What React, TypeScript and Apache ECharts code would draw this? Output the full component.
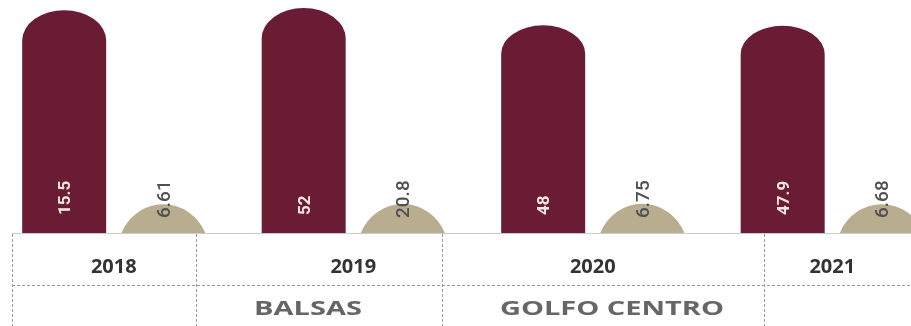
import React, { useEffect, useRef } from "react";
import * as echarts from "echarts";

const years = ["2018", "2019", "2020", "2021"];
const guindaValues = [51.5, 52, 48, 47.9];
const guindaLabels = ["15.5", "52", "48", "47.9"];
const beigeValues = [6.61, 6.7, 6.75, 6.68];
const beigeLabels = ["6.61", "20.8", "6.75", "6.68"];
const regionLabels = ["BALSAS", "GOLFO CENTRO"];

const GUINDA = "#6a1c35";
const BEIGE = "#b8ae8f";

export default function App() {
  const ref = useRef<HTMLDivElement>(null);
  useEffect(() => {
    if (!ref.current) return;
    const chart = echarts.init(ref.current, null, { renderer: "svg" });
    const dash = { stroke: "#9a9a9a", lineWidth: 1, lineDash: [3, 2] };
    const vx = [12.5, 196.5, 442.5, 764.5];
    const regionX = [308, 612];
    chart.setOption({
      animation: false,
      grid: { left: -6, right: -41, top: 8, bottom: 93, outerBoundsMode: "none", containLabel: false },
      xAxis: {
        type: "category",
        data: years,
        axisLine: { show: false },
        axisTick: { show: false },
        axisLabel: {
          margin: 22,
          fontFamily: "Open Sans",
          fontWeight: "bold",
          fontSize: 20,
          color: "#333333",
        },
      },
      yAxis: { type: "value", min: 0, max: 52, show: false },
      series: [
        {
          type: "pictorialBar",
          data: guindaValues,
          barWidth: 84,
          barGap: "18%",
          symbol: "path://M0,30 A42,30 0 0 1 84,30 L84,220 L0,220 Z",
          symbolSize: ["100%", "100%"],
          symbolRepeat: false,
          itemStyle: { color: GUINDA },
          label: {
            show: true,
            position: "insideBottom",
            rotate: 90,
            align: "left",
            verticalAlign: "middle",
            distance: 18,
            fontFamily: "Roboto",
            fontWeight: "bold",
            fontSize: 17,
            color: "#f4e9dc",
            formatter: (p: any) => guindaLabels[p.dataIndex],
          },
        },
        {
          type: "pictorialBar",
          data: beigeValues,
          barWidth: 84,
          barGap: "18%",
          symbol: "path://M0,28 A45.5,45.5 0 0 1 84,28 Z",
          symbolSize: ["100%", "100%"],
          symbolRepeat: false,
          itemStyle: { color: BEIGE },
          label: {
            show: true,
            position: "insideBottom",
            rotate: 90,
            align: "left",
            verticalAlign: "middle",
            distance: 15,
            fontFamily: "Roboto",
            fontWeight: 500,
            fontSize: 19,
            color: "#505050",
            formatter: (p: any) => beigeLabels[p.dataIndex],
          },
        },
      ],
      graphic: [
        { type: "line", shape: { x1: 12, y1: 233.5, x2: 911, y2: 233.5 }, style: { stroke: "#cccccc", lineWidth: 1 } },
        { type: "line", shape: { x1: 12, y1: 285.5, x2: 911, y2: 285.5 }, style: dash },
        ...vx.map((x) => ({ type: "line", shape: { x1: x, y1: 234, x2: x, y2: 326 }, style: dash })),
        ...regionLabels.map((t, i) => ({
          type: "text",
          x: regionX[i],
          y: 307,
          scaleX: 1.45,
          style: {
            text: t,
            textAlign: "center",
            textVerticalAlign: "middle",
            fontFamily: "Open Sans",
            fontWeight: "bold",
            fontSize: 20,
            fill: "#666666",
          },
        })),
      ],
    });
    return () => chart.dispose();
  }, []);
  return <div ref={ref} style={{ position: "fixed", left: 0, top: 0, width: 911, height: 326 }} />;
}
